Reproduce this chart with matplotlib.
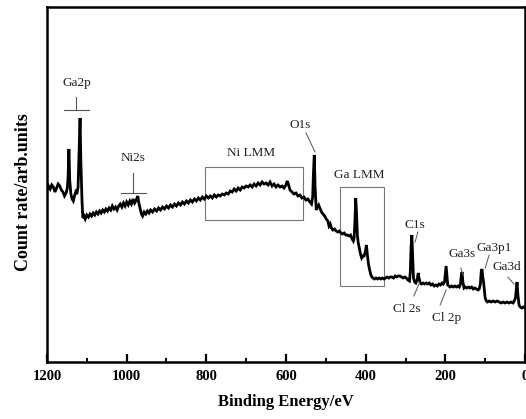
import matplotlib
matplotlib.use("Agg")
import matplotlib.pyplot as plt
from matplotlib.patches import Rectangle
from matplotlib.ticker import MultipleLocator

plt.rcParams['font.family'] = ['Liberation Serif', 'DejaVu Serif']

# Binding energy (eV) and count rate (arb. units)
binding_energy = [
    1200, 1196, 1192, 1188, 1184, 1180, 1176, 1172, 1168, 1164, 1160, 1156, 1152, 1149, 1147, 1145,
    1143, 1140, 1137, 1134, 1131, 1128, 1125, 1122, 1119, 1117, 1115, 1112, 1110, 1107, 1104, 1100,
    1096, 1092, 1088, 1084, 1080, 1076, 1072, 1068, 1064, 1060, 1056, 1052, 1048, 1044, 1040, 1036,
    1032, 1028, 1024, 1020, 1016, 1012, 1008, 1004, 1000, 996, 992, 988, 984, 980, 976, 972, 970,
    967, 963, 960, 956, 952, 948, 944, 940, 935, 930, 925, 920, 915, 910, 905, 900, 895, 890, 885,
    880, 875, 870, 865, 860, 855, 850, 845, 840, 835, 830, 825, 820, 815, 810, 805, 800, 795, 790,
    785, 780, 775, 770, 765, 760, 755, 750, 745, 740, 735, 730, 725, 720, 715, 710, 705, 700, 695,
    690, 685, 680, 675, 670, 665, 660, 655, 650, 645, 640, 635, 630, 625, 620, 615, 610, 605, 600,
    597, 594, 590, 585, 580, 575, 570, 565, 560, 555, 550, 545, 540, 536, 533, 531, 529, 527, 524,
    521, 518, 515, 511, 507, 503, 499, 495, 492, 489, 486, 482, 478, 474, 470, 466, 462, 458, 454,
    450, 446, 442, 438, 434, 431, 429, 427, 425, 423, 421, 419, 416, 413, 410, 407, 404, 401, 398,
    396, 393, 390, 386, 382, 378, 374, 370, 366, 362, 358, 354, 350, 346, 342, 338, 334, 330, 326,
    322, 318, 314, 310, 306, 302, 298, 294, 290, 288, 286, 284, 282, 280, 277, 274, 271, 268, 266,
    263, 260, 256, 252, 248, 244, 240, 236, 232, 228, 224, 220, 216, 212, 208, 205, 202, 200, 198,
    196, 194, 191, 188, 184, 180, 176, 172, 168, 165, 162, 160, 158, 156, 153, 150, 146, 142, 138,
    134, 130, 126, 122, 118, 115, 112, 110, 108, 106, 104, 102, 100, 97, 94, 90, 85, 80, 75, 70, 65,
    60, 55, 50, 45, 40, 35, 30, 27, 24, 22, 20, 18, 15, 12, 8, 4, 0,
]
count_rate = [
    172, 176, 173, 177, 175, 170, 174, 178, 176, 172, 170, 166, 169, 174, 185, 213,
    182, 168, 163, 161, 166, 170, 168, 175, 215, 244, 200, 160, 144, 146, 143, 147,
    145, 148, 146, 149, 147, 150, 148, 151, 149, 152, 150, 153, 151, 154, 152, 156,
    153, 155, 152, 156, 158, 155, 159, 156, 160, 157, 161, 158, 163, 159, 162, 166, 160,
    155, 148, 146, 150, 148, 151, 149, 152, 150, 153, 151, 154, 152, 155, 153, 156, 154, 157, 155,
    158, 156, 159, 157, 160, 158, 161, 159, 162, 160, 163, 161, 164, 162, 165, 163, 166, 164, 166,
    164, 167, 165, 167, 166, 168, 167, 169, 168, 171, 170, 173, 171, 174, 172, 175, 174, 176, 175,
    177, 175, 178, 176, 179, 177, 180, 178, 179, 177, 180, 176, 178, 175, 177, 175, 176, 174, 177,
    181, 178, 172, 170, 168, 169, 166, 167, 164, 165, 162, 163, 160, 158, 165, 190, 207, 175, 152,
    155, 157, 154, 150, 148, 146, 143, 141, 136, 138, 134, 132, 133, 131, 130, 131, 129, 128, 129,
    127, 127, 126, 127, 123, 121, 124, 140, 164, 150, 128, 120, 114, 108, 104, 106, 106, 110, 117,
    108, 98, 92, 86, 84, 83, 84, 83, 84, 83, 84, 83, 84, 85, 84, 85, 85, 84, 86,
    85, 86, 86, 85, 84, 85, 84, 82, 81, 90, 115, 127, 105, 84, 80, 79, 82, 89, 84,
    79, 78, 79, 78, 79, 78, 79, 77, 78, 76, 77, 76, 78, 77, 79, 78, 80, 88, 96,
    86, 77, 76, 75, 76, 75, 76, 75, 76, 75, 78, 86, 90, 80, 74, 75, 74, 75, 74,
    75, 73, 74, 73, 72, 73, 78, 90, 93, 85, 80, 72, 64, 61, 60, 61, 60, 61, 60, 61, 60,
    59, 60, 59, 60, 59, 60, 59, 61, 64, 72, 80, 68, 57, 55, 54, 55, 54,
]

fig = plt.figure(figsize=(5.26, 4.19), dpi=100)
ax = fig.add_axes([47 / 526, 1 - 362 / 419, 478 / 526, 355 / 419])

ax.plot(binding_energy, count_rate, color='black', lw=2.0, solid_joinstyle='miter')

ax.set_xlim(1200, 0)
ax.set_ylim(0, 355)
ax.xaxis.set_major_locator(MultipleLocator(200))
ax.xaxis.set_minor_locator(MultipleLocator(100))
ax.set_yticks([])
ax.tick_params(axis='x', which='major', direction='in', length=6, width=1.6, pad=6,
               labelsize=10.5, top=False)
ax.tick_params(axis='x', which='minor', direction='in', length=3, width=1.4, top=False)
for lab in ax.get_xticklabels():
    lab.set_fontweight('bold')
for sp in ax.spines.values():
    sp.set_linewidth(1.8)

ax.set_xlabel('Binding Energy/eV', fontsize=12, fontweight='bold', labelpad=8)
ax.set_ylabel('Count rate/arb.units', fontsize=13, fontweight='bold')
ax.yaxis.set_label_coords(-0.031, 0.479)

fs = 9.5
tc = '#222222'
gc = '#555555'

# Ga2p marker
ax.text(1124, 279, 'Ga2p', ha='center', va='center', fontsize=fs, color=tc)
ax.plot([1127, 1127], [265, 252], color=gc, lw=0.8)
ax.plot([1157, 1094], [252, 252], color=gc, lw=0.8)

# Ni2s marker
ax.text(984, 204, 'Ni2s', ha='center', va='center', fontsize=fs, color=tc)
ax.plot([984, 984], [189, 169], color=gc, lw=0.8)
ax.plot([1014, 951], [169, 169], color=gc, lw=0.8)

# Ni LMM box
ax.text(688, 209, 'Ni LMM', ha='center', va='center', fontsize=fs, color=tc)
ax.add_patch(Rectangle((557, 142), 246, 53, fill=False, ec='#777777', lw=0.8))

# O1s
ax.text(565, 237, 'O1s', ha='center', va='center', fontsize=fs, color=tc)
ax.plot([550, 527], [229, 210], color=gc, lw=0.7)

# Ga LMM box
ax.text(417, 187, 'Ga LMM', ha='center', va='center', fontsize=fs, color=tc)
ax.add_patch(Rectangle((354, 76), 110, 99, fill=False, ec='#777777', lw=0.8))

# C1s
ax.text(276, 137, 'C1s', ha='center', va='center', fontsize=fs, color=tc)
ax.plot([269, 276], [130, 120], color=gc, lw=0.7)

# Cl 2s
ax.text(296, 53, 'Cl 2s', ha='center', va='center', fontsize=fs, color=tc)
ax.plot([279, 264], [66, 80], color=gc, lw=0.7)

# Cl 2p
ax.text(196, 44, 'Cl 2p', ha='center', va='center', fontsize=fs, color=tc)
ax.plot([213, 198], [57, 72], color=gc, lw=0.7)

# Ga3s
ax.text(158, 108, 'Ga3s', ha='center', va='center', fontsize=fs, color=tc)
ax.plot([161, 156], [94, 87], color=gc, lw=0.7)

# Ga3p1
ax.text(78, 114, 'Ga3p1', ha='center', va='center', fontsize=fs, color=tc)
ax.plot([90, 100], [107, 94], color=gc, lw=0.7)

# Ga3d
ax.text(45, 95, 'Ga3d', ha='center', va='center', fontsize=fs, color=tc)
ax.plot([43, 28], [85, 78], color=gc, lw=0.7)

fig.savefig('out.png', dpi=100)
